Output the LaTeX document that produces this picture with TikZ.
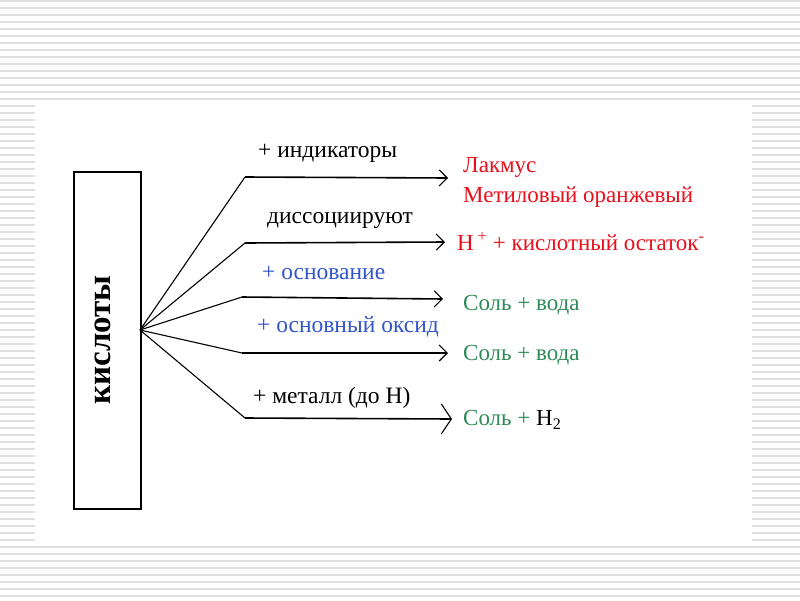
\documentclass[tikz,border=0pt]{standalone}
\usepackage{fontspec}
\setmainfont{Liberation Serif}
\usepackage{xcolor}
\usepackage{tikz}
\usetikzlibrary{arrows.meta,calc,positioning}

\definecolor{acidred}{HTML}{E8101A}
\definecolor{acidblue}{HTML}{3355CC}
\definecolor{acidgreen}{HTML}{2E8B57}
\definecolor{stripe}{HTML}{E0E0E0}

\begin{document}
\begin{tikzpicture}[x=1pt,y=-1pt, arrow/.style = {line width=1.6pt,-{Straight Barb[length=8pt,width=16pt,line width=1.1pt]}}]
		\tikzset{lbl/.style={inner sep=0pt,anchor=west,font=\fontsize{23.5}{25}\selectfont},
			res/.style={inner sep=0pt,anchor=west,font=\fontsize{23}{25}\selectfont},
			spoke/.style={line width=1.1pt}}
		\useasboundingbox (0,0) rectangle (800,600);

		% background
		\fill[white] (0,0) rectangle (800,600);
		\foreach \y in {1,8,...,600}
			\draw[stripe,line width=1.2pt] (0,\y) -- (800,\y);
		\fill[white] (35,105) rectangle (752,545);

		% acids
		\node[draw=black, line width=1.2pt, minimum width=67pt, minimum height=337pt, inner sep=0pt] (acid) at (107.5,340.5) {};
		\node[rotate=90, font=\fontsize{33}{35}\selectfont\bfseries] (acidtxt) at (103,340) {кислоты};
		\coordinate (hub) at (140,330);

		% corners and tips
		\coordinate (k1) at (245,177);
		\coordinate (t1) at (448,178);
		\coordinate (k2) at (245,243);
		\coordinate (t2) at (445,242);
		\coordinate (k3) at (242,297);
		\coordinate (t3) at (443,299);
		\coordinate (k4) at (242,353);
		\coordinate (t4) at (448,353);
		\coordinate (k5) at (245,418);
		\coordinate (t5) at (452,419);

		% labels over the arrows
		\node[lbl] (ind) at (258,153) {+ индикаторы};
		\node[lbl] (diss) at (267,220) {диссоциируют};
		\node[lbl, text=acidblue] (base) at (262,273) {+ основание};
		\node[lbl, text=acidblue] (oxide) at (257,327) {+ основный оксид};
		\node[lbl] (metal) at (253,398) {+ металл (до Н)};

		% results
		\node[res, text=acidred] (lakmus) at (463,167) {Лакмус};
		\node[res, text=acidred] (methyl) at (463,197) {Метиловый оранжевый};
		\node[res, text=acidred] (ions) at (457,242) {Н\,\textsuperscript{+} + кислотный остаток\textsuperscript{-}};
		\node[res, text=acidgreen] (salt1) at (463,305) {Соль + вода};
		\node[res, text=acidgreen] (salt2) at (463,355) {Соль + вода};
		\node[res] (salt3) at (463,420) {\textcolor{acidgreen}{Соль +} H\textsubscript{2}};

		% arrows
		\draw [spoke] (hub) -- (k1);
		\draw [spoke] (hub) -- (k2);
		\draw [spoke] (hub) -- (k3);
		\draw [spoke] (hub) -- (k4);
		\draw [spoke] (hub) -- (k5);
		\draw [arrow] (k1) -- (t1);
		\draw [arrow] (k2) -- (t2);
		\draw [arrow] (k3) -- (t3);
		\draw [arrow] (k4) -- (t4);
		\draw [arrow, -{Straight Barb[length=10pt,width=30pt,line width=1.1pt]}] (k5) -- (t5);

	\end{tikzpicture}
\end{document}
